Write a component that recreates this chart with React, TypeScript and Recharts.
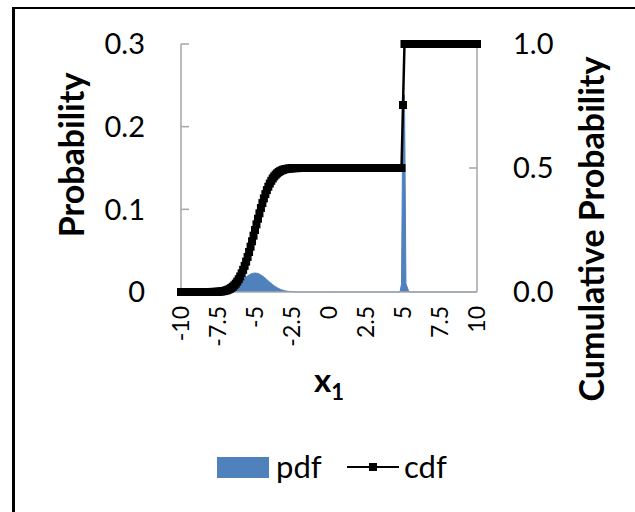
import React from 'react';
import { ComposedChart, Area, Line, XAxis, YAxis } from 'recharts';

// x positions of the sampled points (finer where the curves move)
const xValues = [
  -10, -9.8, -9.6, -9.4, -9.2, -9, -8.8, -8.6, -8.4, -8.2,
  -8, -7.9, -7.8, -7.7, -7.6, -7.5, -7.4, -7.3, -7.2, -7.1,
  -7, -6.9, -6.8, -6.7, -6.6, -6.5, -6.4, -6.3, -6.2, -6.1,
  -6, -5.9, -5.8, -5.7, -5.6, -5.5, -5.4, -5.3, -5.2, -5.1,
  -5, -4.9, -4.8, -4.7, -4.6, -4.5, -4.4, -4.3, -4.2, -4.1,
  -4, -3.9, -3.8, -3.7, -3.6, -3.5, -3.4, -3.3, -3.2, -3.1,
  -3, -2.9, -2.8, -2.7, -2.6, -2.5, -2.4, -2.3, -2.2, -2.1,
  -2,
  -1.8, -1.6, -1.4, -1.2, -1, -0.8, -0.6, -0.4, -0.2, 0,
  0.2, 0.4, 0.6, 0.8, 1, 1.2, 1.4, 1.6, 1.8, 2,
  2.2, 2.4, 2.6, 2.8, 3, 3.2, 3.4, 3.6, 3.8, 4,
  4.2, 4.4, 4.6, 4.8,
  4.9, 5, 5.1,
  5.2, 5.4, 5.6, 5.8, 6, 6.2, 6.4, 6.6, 6.8, 7,
  7.2, 7.4, 7.6, 7.8, 8, 8.2, 8.4, 8.6, 8.8, 9,
  9.2, 9.4, 9.6, 9.8, 10,
];

const pdfValues = [
  0, 0, 0, 0, 0, 0, 0, 0, 0, 0,
  0.0001, 0.0001, 0.0001, 0.0002, 0.0003, 0.0004, 0.0005, 0.0007, 0.0009, 0.0012,
  0.0016, 0.0021, 0.0027, 0.0034, 0.0042, 0.0052, 0.0063, 0.0075, 0.0089, 0.0103,
  0.0118, 0.0134, 0.015, 0.0166, 0.0181, 0.0194, 0.0206, 0.0216, 0.0223, 0.0228,
  0.0229, 0.0228, 0.0223, 0.0216, 0.0206, 0.0194, 0.0181, 0.0166, 0.015, 0.0134,
  0.0118, 0.0103, 0.0089, 0.0075, 0.0063, 0.0052, 0.0042, 0.0034, 0.0027, 0.0021,
  0.0016, 0.0012, 0.0009, 0.0007, 0.0005, 0.0004, 0.0003, 0.0002, 0.0001, 0.0001,
  0.0001,
  0, 0, 0, 0, 0, 0, 0, 0, 0, 0,
  0, 0, 0, 0, 0, 0, 0, 0, 0, 0,
  0, 0, 0, 0, 0, 0, 0, 0, 0, 0,
  0, 0, 0, 0,
  0.01, 0.238, 0.238,
  0.01, 0, 0, 0, 0, 0, 0, 0, 0, 0,
  0, 0, 0, 0, 0, 0, 0, 0, 0, 0,
  0, 0, 0, 0, 0,
];

const cdfValues = [
  0, 0, 0, 0, 0, 0, 0, 0, 0, 0,
  0.0001, 0.0002, 0.0003, 0.0005, 0.0007, 0.001, 0.0015, 0.0021, 0.0029, 0.0039,
  0.0054, 0.0072, 0.0096, 0.0127, 0.0165, 0.0212, 0.0269, 0.0338, 0.042, 0.0516,
  0.0627, 0.0753, 0.0894, 0.1053, 0.1226, 0.1414, 0.1614, 0.1826, 0.2046, 0.2272,
  0.25, 0.2728, 0.2954, 0.3174, 0.3386, 0.3586, 0.3774, 0.3947, 0.4106, 0.4247,
  0.4373, 0.4484, 0.458, 0.4662, 0.4731, 0.4788, 0.4835, 0.4873, 0.4904, 0.4928,
  0.4946, 0.4961, 0.4971, 0.4979, 0.4985, 0.499, 0.4993, 0.4995, 0.4997, 0.4998,
  0.4999,
  0.5, 0.5, 0.5, 0.5, 0.5, 0.5, 0.5, 0.5, 0.5, 0.5,
  0.5, 0.5, 0.5, 0.5, 0.5, 0.5, 0.5, 0.5, 0.5, 0.5,
  0.5, 0.5, 0.5, 0.5, 0.5, 0.5, 0.5, 0.5, 0.5, 0.5,
  0.5, 0.5, 0.5, 0.5,
  0.5, 0.754, 1,
  1, 1, 1, 1, 1, 1, 1, 1, 1, 1,
  1, 1, 1, 1, 1, 1, 1, 1, 1, 1,
  1, 1, 1, 1, 1,
];

const xTicks = [-10, -7.5, -5, -2.5, 0, 2.5, 5, 7.5, 10];
const probTicks = [0, 0.1, 0.2, 0.3];
const cumTicks = [0, 0.5, 1];

const data = xValues.map((x, i) => ({ x, pdf: pdfValues[i], cdf: cdfValues[i] }));

const FONT = 'Lato, "Open Sans", sans-serif';
const AXIS = '#a6a6a6';
const BLUE = '#4f81bd';
const GAP = 36;

const LeftTick = (props: any) => {
  const { x, y, payload } = props;
  const ax = x + GAP;
  const v = payload.value;
  return (
    <g>
      {v !== 0 && <line x1={ax} x2={ax + 8} y1={y} y2={y} stroke={AXIS} strokeWidth={1.5} />}
      <text x={x} y={y} dy="0.36em" textAnchor="end" fontSize={29} fill="#000" fontFamily={FONT}>
        {v === 0 ? '0' : v.toFixed(1)}
      </text>
    </g>
  );
};

const RightTick = (props: any) => {
  const { x, y, payload } = props;
  const ax = x - GAP;
  const v = payload.value;
  return (
    <g>
      {v !== 0 && v !== 1 && <line x1={ax} x2={ax - 8} y1={y} y2={y} stroke={AXIS} strokeWidth={1.5} />}
      <text x={x} y={y} dy="0.36em" textAnchor="start" fontSize={29} fill="#000" fontFamily={FONT}>
        {v.toFixed(1)}
      </text>
    </g>
  );
};

const BottomTick = (props: any) => {
  const { x, y, payload } = props;
  return (
    <text
      x={x}
      y={y}
      dy="0.36em"
      transform={`rotate(-90 ${x} ${y})`}
      textAnchor="end"
      fontSize={23}
      fill="#000"
      fontFamily={FONT}
    >
      {String(payload.value)}
    </text>
  );
};

const SquareDot = (props: any) => {
  const { cx, cy, index } = props;
  if (cx == null || cy == null) return <g key={`d${index}`} />;
  return <rect key={`d${index}`} x={cx - 4} y={cy - 4} width={8} height={8} fill="#000" />;
};

export default function App() {
  return (
    <div
      style={{
        position: 'absolute',
        left: 0,
        top: 0,
        width: 635,
        height: 512,
        overflow: 'hidden',
        background: '#fff',
        fontFamily: FONT,
      }}
    >
      <div
        style={{
          position: 'absolute',
          left: 12,
          top: 7,
          width: 700,
          height: 600,
          borderLeft: '3px solid #000',
          borderTop: '2px solid #000',
        }}
      />
      <div style={{ position: 'absolute', left: 0, top: 0 }}>
        <ComposedChart width={635} height={512} data={data} margin={{ top: 44, right: 0, bottom: 0, left: 0 }}>
          <XAxis
            dataKey="x"
            type="number"
            domain={[-10, 10]}
            ticks={xTicks}
            interval={0}
            height={220}
            tickSize={0}
            tickMargin={14}
            tickLine={false}
            axisLine={{ stroke: AXIS, strokeWidth: 1.5 }}
            tick={<BottomTick />}
          />
          <YAxis
            yAxisId="left"
            orientation="left"
            width={181}
            domain={[0, 0.3]}
            ticks={probTicks}
            interval={0}
            tickSize={0}
            tickMargin={GAP}
            tickLine={false}
            axisLine={{ stroke: AXIS, strokeWidth: 1.5 }}
            tick={<LeftTick />}
          />
          <YAxis
            yAxisId="right"
            orientation="right"
            width={158}
            domain={[0, 1]}
            ticks={cumTicks}
            interval={0}
            tickSize={0}
            tickMargin={GAP}
            tickLine={false}
            axisLine={{ stroke: AXIS, strokeWidth: 1.5 }}
            tick={<RightTick />}
          />
          <Area
            yAxisId="left"
            dataKey="pdf"
            type="linear"
            fill={BLUE}
            fillOpacity={1}
            stroke={BLUE}
            strokeWidth={1}
            dot={false}
            activeDot={false}
            isAnimationActive={false}
          />
          <Line
            yAxisId="right"
            dataKey="cdf"
            type="linear"
            stroke="#000"
            strokeWidth={2.5}
            dot={<SquareDot />}
            activeDot={false}
            isAnimationActive={false}
          />
        </ComposedChart>
      </div>
      <svg width={635} height={512} style={{ position: 'absolute', left: 0, top: 0, pointerEvents: 'none' }}>
        <text
          x={84}
          y={155}
          transform="rotate(-90 84 155)"
          textAnchor="middle"
          fontSize={34}
          fontWeight="bold"
          fontFamily={FONT}
          fill="#000"
        >
          Probability
        </text>
        <text
          x={604}
          y={229}
          transform="rotate(-90 604 229)"
          textAnchor="middle"
          fontSize={34}
          fontWeight="bold"
          fontFamily={FONT}
          fill="#000"
        >
          Cumulative Probability
        </text>
        <text x={329} y={392} textAnchor="middle" fontSize={33} fontWeight="bold" fontFamily={FONT} fill="#000">
          x<tspan fontSize={22} dy={8}>1</tspan>
        </text>
        <rect x={217} y={457} width={52} height={21} fill={BLUE} />
        <text x={276} y={478} fontSize={31} fontFamily={FONT} fill="#000">
          pdf
        </text>
        <line x1={347} x2={399} y1={467} y2={467} stroke="#000" strokeWidth={2} />
        <rect x={369} y={463} width={8} height={8} fill="#000" />
        <text x={404} y={478} fontSize={31} fontFamily={FONT} fill="#000">
          cdf
        </text>
      </svg>
    </div>
  );
}
